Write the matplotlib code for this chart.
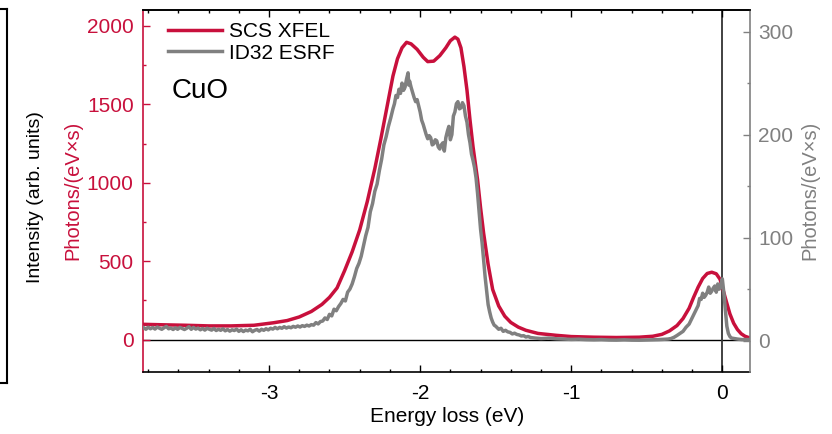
import matplotlib
matplotlib.use("Agg")
from matplotlib import pyplot as plt
from matplotlib.ticker import MultipleLocator

plt.rcParams['font.family'] = ['Liberation Sans', 'DejaVu Sans']
plt.rcParams['axes.unicode_minus'] = False

RED = '#C8103C'
GRAY = '#808080'

# SCS XFEL spectrum (left axis, photons/(eV x s))
xfel_energy = [-3.83, -3.70, -3.55, -3.40, -3.25, -3.10, -2.97, -2.88, -2.80, -2.72,
               -2.65, -2.60, -2.55, -2.50, -2.45, -2.40, -2.35, -2.30, -2.26, -2.22,
               -2.18, -2.15, -2.12, -2.09, -2.06, -2.02, -1.98, -1.95, -1.91, -1.87,
               -1.83, -1.80, -1.77, -1.75, -1.73, -1.71, -1.69, -1.67, -1.65, -1.62,
               -1.60, -1.58, -1.55, -1.52, -1.48, -1.44, -1.40, -1.35, -1.30, -1.22,
               -1.10, -1.00, -0.85, -0.70, -0.55, -0.46, -0.40, -0.35, -0.30, -0.26,
               -0.22, -0.19, -0.16, -0.13, -0.10, -0.07, -0.04, -0.015, 0.01, 0.03,
               0.05, 0.075, 0.10, 0.125, 0.15, 0.18]
xfel_counts = [98, 95, 92, 88, 88, 92, 108, 122, 145, 180,
               225, 270, 330, 440, 560, 700, 880, 1090, 1280, 1480,
               1680, 1790, 1860, 1895, 1885, 1850, 1800, 1772, 1775, 1810,
               1860, 1905, 1928, 1915, 1860, 1740, 1590, 1400, 1230, 1020,
               840, 680, 480, 320, 215, 150, 110, 80, 60, 40,
               28, 20, 16, 14, 16, 22, 34, 56, 90, 135,
               200, 270, 335, 390, 422, 430, 420, 385, 300, 232,
               165, 105, 65, 38, 22, 12]

# ID32 ESRF spectrum (right axis), noisy
esrf_energy = [-3.83, -3.815, -3.80, -3.785, -3.77, -3.755, -3.74, -3.725, -3.71, -3.695,
               -3.68, -3.665, -3.65, -3.635, -3.62, -3.605, -3.59, -3.575, -3.56, -3.545,
               -3.53, -3.515, -3.50, -3.485, -3.47, -3.455, -3.44, -3.425, -3.41, -3.395,
               -3.38, -3.365, -3.35, -3.335, -3.32, -3.305, -3.29, -3.275, -3.26, -3.245,
               -3.23, -3.215, -3.20, -3.185, -3.17, -3.155, -3.14, -3.125, -3.11, -3.095,
               -3.08, -3.065, -3.05, -3.035, -3.02, -3.005, -2.99, -2.975, -2.96, -2.945,
               -2.93, -2.915, -2.90, -2.885, -2.87, -2.855, -2.84, -2.825, -2.81, -2.795,
               -2.78, -2.765, -2.75, -2.735, -2.72, -2.705, -2.69, -2.675, -2.66, -2.645,
               -2.63, -2.615, -2.60, -2.585, -2.57, -2.555, -2.54, -2.525, -2.51, -2.495,
               -2.48, -2.465, -2.45, -2.435, -2.42, -2.405, -2.39, -2.375, -2.36, -2.345,
               -2.33, -2.315, -2.30, -2.285, -2.27, -2.255, -2.24, -2.225, -2.21, -2.195,
               -2.18, -2.17, -2.16, -2.15, -2.14, -2.13, -2.12, -2.11, -2.10, -2.09,
               -2.08, -2.075, -2.07, -2.06, -2.05, -2.04, -2.03, -2.02, -2.01, -2.00,
               -1.99, -1.98, -1.97, -1.96, -1.95, -1.94, -1.93, -1.92, -1.91, -1.90,
               -1.89, -1.88, -1.87, -1.86, -1.85, -1.84, -1.83, -1.82, -1.81, -1.80,
               -1.79, -1.78, -1.77, -1.76, -1.75, -1.74, -1.73, -1.72, -1.71, -1.70,
               -1.69, -1.68, -1.67, -1.66, -1.65, -1.64, -1.63, -1.62, -1.61, -1.60,
               -1.59, -1.58, -1.57, -1.56, -1.55, -1.54, -1.53, -1.52, -1.51, -1.50,
               -1.49, -1.48, -1.465, -1.45, -1.435, -1.42, -1.405, -1.39, -1.375, -1.36,
               -1.345, -1.33, -1.315, -1.30, -1.285, -1.27, -1.24, -1.20, -1.15, -1.10,
               -1.05, -1.00, -0.95, -0.90, -0.85, -0.80, -0.75, -0.70, -0.65, -0.60,
               -0.55, -0.50, -0.46, -0.42, -0.39, -0.36, -0.34, -0.32, -0.30, -0.28,
               -0.26, -0.24, -0.22, -0.20, -0.19, -0.18, -0.17, -0.16, -0.15, -0.14,
               -0.13, -0.12, -0.11, -0.10, -0.09, -0.08, -0.07, -0.06, -0.05, -0.04,
               -0.03, -0.02, -0.01, -0.004, 0.0, 0.006, 0.012, 0.02, 0.03, 0.04,
               0.05, 0.06, 0.08, 0.10, 0.13, 0.17]
esrf_counts = [12.5, 11.0, 13.0, 11.5, 12.8, 11.2, 13.2, 12.0, 11.0, 12.5,
               13.8, 11.5, 12.2, 10.8, 12.5, 11.0, 12.8, 11.8, 10.8, 12.0,
               13.5, 11.0, 12.8, 11.2, 12.2, 10.5, 11.8, 10.2, 12.0, 11.0,
               10.2, 11.8, 9.8, 11.0, 10.0, 11.5, 9.5, 10.8, 9.2, 10.5,
               9.8, 11.2, 9.0, 10.5, 8.8, 10.2, 9.5, 11.0, 8.6, 10.0,
               10.8, 9.2, 11.0, 10.0, 11.5, 10.4, 12.0, 11.2, 12.8, 11.5,
               12.8, 12.0, 13.5, 12.2, 13.2, 12.5, 13.8, 13.0, 14.2, 13.2,
               14.5, 13.8, 15.0, 14.2, 15.5, 15.0, 17.5, 16.2, 18.5, 19.0,
               22.0, 20.5, 25.5, 24.0, 30.5, 29.0, 33.0, 36.0, 40.0, 38.5,
               47.0, 50.0, 55.0, 62.0, 70.0, 75.0, 82.0, 92.0, 102.0, 110.0,
               125.0, 133.0, 145.0, 152.0, 165.0, 176.0, 190.0, 198.0, 208.0, 216.0,
               225.0, 230.0, 238.0, 236.0, 244.0, 240.0, 250.0, 243.0, 246.0, 254.0,
               260.0, 248.0, 252.0, 246.0, 241.0, 236.0, 232.0, 234.0, 228.0, 222.0,
               214.0, 210.0, 205.0, 200.0, 196.0, 199.0, 197.0, 190.0, 191.0, 195.0,
               194.0, 188.0, 186.0, 190.0, 192.0, 184.0, 197.0, 203.0, 208.0, 195.0,
               200.0, 218.0, 222.0, 230.0, 232.0, 225.0, 226.0, 231.0, 228.0, 218.0,
               212.0, 200.0, 192.0, 181.0, 175.0, 168.0, 158.0, 143.0, 125.0, 108.0,
               95.0, 78.0, 62.0, 48.0, 35.0, 28.0, 22.0, 18.0, 15.0, 14.0,
               12.5, 11.0, 12.0, 9.0, 10.0, 8.5, 8.0, 6.5, 7.2, 6.0,
               5.5, 4.5, 4.8, 3.5, 4.0, 3.0, 2.5, 2.0, 2.4, 1.8,
               1.5, 1.2, 1.4, 1.0, 0.8, 1.0, 0.6, 0.5, 0.8, 0.5,
               0.4, 0.6, 0.8, 1.0, 1.2, 1.5, 2.0, 3.2, 5.0, 7.0,
               9.0, 13.0, 16.0, 22.0, 25.0, 28.0, 31.0, 34.0, 41.0, 40.0,
               46.0, 42.0, 44.0, 47.0, 52.0, 46.0, 48.0, 51.0, 53.0, 47.0,
               55.0, 50.0, 52.0, 58.0, 60.0, 52.0, 44.0, 30.0, 14.0, 7.0,
               4.0, 2.5, 2.0, 1.5, 1.0, 1.0]

x_ticks = [-3, -2, -1, 0]
left_ticks = [0, 500, 1000, 1500, 2000]
right_ticks = [0, 100, 200, 300]


def style_ticks(ax, axis, color):
    ax.tick_params(axis=axis, which='both', direction='in', colors=color,
                   labelsize=15, pad=7)
    ax.tick_params(axis=axis, which='major', length=5, width=1)
    ax.tick_params(axis=axis, which='minor', length=2.5, width=1)


def plot_spectra():
    fig = plt.figure(figsize=(8.32, 4.34), dpi=100)
    ax = fig.add_axes([0.1723, 0.1435, 0.7291, 0.8335])
    ax2 = ax.twinx()

    # bit of the neighbouring panel on the far left
    side = fig.add_axes([-0.2, 0.1175, 0.2084, 0.8618])
    side.set_xticks([])
    side.set_yticks([])
    for s in side.spines.values():
        s.set_linewidth(1.5)
        s.set_color('black')
    fig.text(0.043, 0.546, 'Intensity (arb. units)', rotation=90,
             ha='center', va='center', fontsize=14)

    ax.axhline(0, color='black', lw=1, zorder=1)
    ax.axvline(0, color='#333333', lw=1.3, zorder=1)

    l1, = ax.plot(xfel_energy, xfel_counts, color=RED, lw=2.5, label='SCS XFEL')
    l2, = ax2.plot(esrf_energy, esrf_counts, color=GRAY, lw=2.5, label='ID32 ESRF')

    ax.set_xlim(-3.832, 0.183)
    ax.set_ylim(-204, 2101)
    ax2.set_ylim(-30.2, 321)

    ax.set_xticks(x_ticks)
    ax.xaxis.set_minor_locator(MultipleLocator(0.2))
    ax.set_yticks(left_ticks)
    ax.yaxis.set_minor_locator(MultipleLocator(250))
    ax2.set_yticks(right_ticks)
    ax2.yaxis.set_minor_locator(MultipleLocator(50))

    style_ticks(ax, 'x', 'black')
    ax.tick_params(axis='x', which='both', top=True, pad=9)
    style_ticks(ax, 'y', RED)
    style_ticks(ax2, 'y', GRAY)
    ax2.tick_params(axis='y', pad=6)

    ax.spines['right'].set_visible(False)
    ax2.spines['left'].set_visible(False)
    ax2.spines['bottom'].set_visible(False)
    ax.spines['left'].set_color(RED)
    ax2.spines['right'].set_color(GRAY)
    ax2.spines['top'].set_color('black')
    for s in list(ax.spines.values()) + list(ax2.spines.values()):
        s.set_linewidth(1.2)

    ax.set_xlabel('Energy loss (eV)', fontsize=15, labelpad=3)
    ax.set_ylabel('Photons/(eV×s)', fontsize=14.5, color=RED, labelpad=3)
    ax2.set_ylabel('Photons/(eV×s)', fontsize=14.5, color=GRAY, labelpad=5)

    ax2.legend([l1, l2], ['SCS XFEL', 'ID32 ESRF'], loc='upper left', frameon=False,
               fontsize=15, handlelength=2.6, handletextpad=0.35, labelspacing=0.1,
               borderaxespad=0.2, bbox_to_anchor=(0.02, 1.0))
    ax.text(0.047, 0.775, 'CuO', transform=ax.transAxes, fontsize=20,
            ha='left', va='center')

    fig.savefig('out.png', dpi=100)
    plt.close(fig)


plot_spectra()
